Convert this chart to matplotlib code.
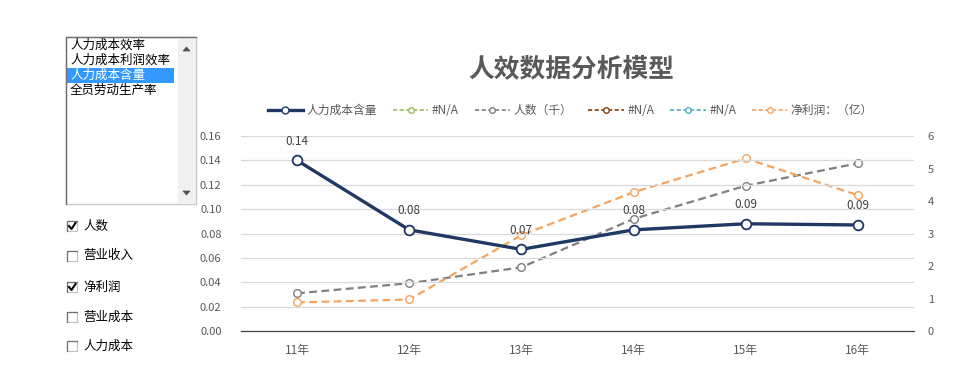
import matplotlib
matplotlib.use("Agg")
import matplotlib.pyplot as plt
from matplotlib.patches import Rectangle, Polygon
from matplotlib.lines import Line2D
import numpy as np

plt.rcParams['font.family'] = ['Noto Sans CJK SC', 'DejaVu Sans']

# ── data ──────────────────────────────────────────────────────────────────────
years      = ["11年", "12年", "13年", "14年", "15年", "16年"]
cost_ratio = [0.140, 0.083, 0.067, 0.083, 0.088, 0.087]      # 人力成本含量 (left)
headcount  = [1.16, 1.47, 1.96, 3.45, 4.47, 5.16]            # 人数（千） (right)
net_profit = [0.88, 0.97, 2.95, 4.27, 5.31, 4.18]            # 净利润（亿） (right)
cost_labels = ["0.14", "0.08", "0.07", "0.08", "0.09", "0.09"]

list_items  = ["人力成本效率", "人力成本利润效率", "人力成本含量", "全员劳动生产率"]
list_sel    = 2
check_items = ["人数", "营业收入", "净利润", "营业成本", "人力成本"]
check_state = [True, False, True, False, False]

NAVY   = "#1F3864"
GRAY   = "#7F7F7F"
ORANGE = "#F4A460"
TXT    = "#595959"

fig = plt.figure(figsize=(9.57, 3.75), dpi=100)

# ── chart ─────────────────────────────────────────────────────────────────────
ax = fig.add_axes([0.2518, 0.1173, 0.7032, 0.52])
ax2 = ax.twinx()
x = np.arange(len(years))

ax2.plot(x, headcount, color=GRAY, lw=1.6, ls=(0, (3.5, 2)), marker="o",
         ms=5.5, mfc="white", mec=GRAY, mew=1.0)
ax2.plot(x, net_profit, color=ORANGE, lw=1.6, ls=(0, (3.5, 2)), marker="o",
         ms=5.5, mfc="white", mec=ORANGE, mew=1.0)
ax2.set_ylim(0, 6)
ax2.set_yticks(range(0, 7))

ax.set_zorder(ax2.get_zorder() + 1)
ax.patch.set_visible(False)
ax.plot(x, cost_ratio, color=NAVY, lw=2.4, marker="o", ms=7,
        mfc="white", mec=NAVY, mew=1.3, zorder=5)
for xi, yi, lab in zip(x, cost_ratio, cost_labels):
    ax.annotate(lab, (xi, yi), xytext=(0, 9), textcoords="offset points",
                ha="center", va="bottom", fontsize=8.5, color="#404040")

ax.set_ylim(0, 0.16)
ax.set_yticks(np.arange(0, 0.161, 0.02))
ax.set_yticklabels([f"{v:.2f}" for v in np.arange(0, 0.161, 0.02)])
ax.set_xlim(-0.5, len(years) - 0.5)
ax.set_xticks(x)
ax.set_xticklabels(years)
ax.grid(axis="y", color="#D9D9D9", lw=0.9)
ax.set_axisbelow(True)

for a in (ax, ax2):
    for s in ("top", "left", "right"):
        a.spines[s].set_visible(False)
    a.spines["bottom"].set_color("#404040")
    a.tick_params(length=0, labelsize=8, labelcolor=TXT)
ax.tick_params(axis="x", pad=9, labelsize=8.5)
ax.tick_params(axis="y", pad=14)
ax2.tick_params(axis="y", pad=10)

fig.text(0.597, 0.818, "人效数据分析模型", ha="center", va="center",
         fontsize=18.5, fontweight="bold", color=TXT)

# legend
def h(color, lw, ls, ms):
    return Line2D([], [], color=color, lw=lw, ls=ls, marker="o", ms=ms,
                  mfc="white", mec=color, mew=1.0)
dash = (0, (2.5, 1.5))
handles = [h(NAVY, 2.4, "-", 5), h("#9BBB59", 1.2, dash, 4), h(GRAY, 1.2, dash, 4),
           h("#843C0C", 1.2, dash, 4), h("#4BACC6", 1.2, dash, 4), h(ORANGE, 1.2, dash, 4)]
labels = ["人力成本含量", "#N/A", "人数（千）", "#N/A", "#N/A", "净利润：（亿）"]
fig.legend(handles, labels, loc="center", bbox_to_anchor=(0.596, 0.705), ncol=6,
           frameon=False, fontsize=8.5, handlelength=3.0, handletextpad=0.3,
           columnspacing=1.35, labelcolor=TXT)

# ── left-hand controls (form widgets) ────────────────────────────────────────
ui = fig.add_axes([0, 0, 1, 1])
ui.set_xlim(0, 957)
ui.set_ylim(375, 0)
ui.axis("off")
ui.patch.set_visible(False)

ui.add_patch(Rectangle((66, 37), 130, 167, fc="white", ec="#C8C8C8", lw=1))
ui.plot([66, 66, 196], [204, 37, 37], color="#6E6E6E", lw=1)
ui.add_patch(Rectangle((178, 38), 17.5, 165, fc="#F0F0F0", ec="none"))
ui.add_patch(Polygon([(183, 51), (190, 51), (186.5, 47)], closed=True,
                     fc="#505050", ec="#505050", lw=0.5))
ui.add_patch(Polygon([(183, 191), (190, 191), (186.5, 195)], closed=True,
                     fc="#505050", ec="#505050", lw=0.5))
for i, item in enumerate(list_items):
    yy = 45.5 + i * 15
    if i == list_sel:
        ui.add_patch(Rectangle((67, yy - 7.5), 107, 15, fc="#3399FF", ec="none"))
    ui.text(70, yy, item, va="center", ha="left", fontsize=9,
            color="white" if i == list_sel else "black")

check_y = [226, 256, 287, 317, 346]
for cy, item, on in zip(check_y, check_items, check_state):
    ui.add_patch(Rectangle((67, cy - 5), 10, 10, fc="white", ec="#C0C0C0", lw=0.8))
    ui.plot([67, 67, 77], [cy + 5, cy - 5, cy - 5], color="#707070", lw=0.9)
    if on:
        ui.plot([69, 71.5, 75.5], [cy, cy + 3, cy - 3], color="black", lw=1.5)
    ui.text(83, cy, item, va="center", ha="left", fontsize=9, color="black")

fig.savefig("out.png", dpi=100)
